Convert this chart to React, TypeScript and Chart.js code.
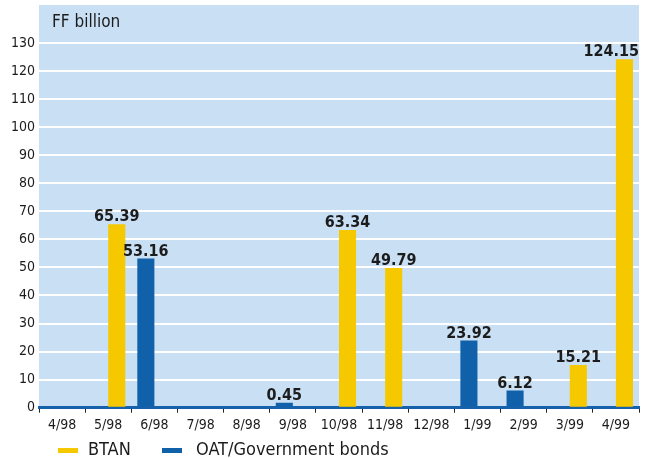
import React, { useEffect, useRef } from 'react';
import { Chart, registerables } from 'chart.js';

Chart.register(...registerables);

const categories = ['4/98', '5/98', '6/98', '7/98', '8/98', '9/98', '10/98', '11/98', '12/98', '1/99', '2/99', '3/99', '4/99'];
const btanValues: (number | null)[] = [null, 65.39, null, null, null, null, 63.34, 49.79, null, null, null, 15.21, 124.15];
const oatValues: (number | null)[] = [null, null, 53.16, null, null, 0.45, null, null, null, 23.92, 6.12, null, null];
const yTickValues = [0, 10, 20, 30, 40, 50, 60, 70, 80, 90, 100, 110, 120, 130];
const yMax = 143.5;
const unitLabel = 'FF billion';
const btanName = 'BTAN';
const oatName = 'OAT/Government bonds';

const FONT = "'Liberation Sans Narrow', 'Arial Narrow', 'DejaVu Sans Condensed', sans-serif";
const YELLOW = '#f6c800';
const BLUE = '#1061a9';
const PLOT_BG = '#c9dff4';
const TEXT = '#1c1c1c';

const plotPlugin = {
  id: 'plotDecor',
  beforeDraw(chart: any) {
    const { ctx, chartArea } = chart;
    ctx.save();
    ctx.fillStyle = PLOT_BG;
    ctx.fillRect(chartArea.left, chartArea.top, chartArea.right - chartArea.left, chartArea.bottom - chartArea.top);
    ctx.restore();
  },
  afterDraw(chart: any) {
    const { ctx, chartArea } = chart;
    ctx.save();
    ctx.fillStyle = TEXT;
    ctx.font = `17px ${FONT}`;
    ctx.textAlign = 'left';
    ctx.textBaseline = 'alphabetic';
    ctx.fillText(unitLabel, chartArea.left + 13, chartArea.top + 22);
    ctx.restore();
  },
  afterDatasetsDraw(chart: any) {
    const { ctx, chartArea } = chart;
    ctx.save();
    ctx.fillStyle = TEXT;
    ctx.font = `bold 16px ${FONT}`;
    ctx.textBaseline = 'alphabetic';
    ctx.textAlign = 'center';
    chart.data.datasets.forEach((ds: any, di: number) => {
      const meta = chart.getDatasetMeta(di);
      meta.data.forEach((el: any, i: number) => {
        const v = ds.data[i];
        if (v === null || v === undefined) return;
        const text = v.toFixed(2);
        const w = ctx.measureText(text).width;
        let x = el.x;
        if (x + w / 2 > chartArea.right) x = chartArea.right - w / 2;
        ctx.fillText(text, x, el.y - 3);
      });
    });
    ctx.restore();
  },
};

export default function App() {
  const canvasRef = useRef<HTMLCanvasElement | null>(null);

  useEffect(() => {
    document.body.style.margin = '0';
    const canvas = canvasRef.current;
    if (!canvas) return;
    const chart = new Chart(canvas, {
      type: 'bar',
      data: {
        labels: categories,
        datasets: [
          {
            label: oatName,
            data: oatValues,
            backgroundColor: BLUE,
            borderWidth: 0,
            categoryPercentage: 0.74,
            barPercentage: 1.0,
            minBarLength: 5,
          },
          {
            label: btanName,
            data: btanValues,
            backgroundColor: YELLOW,
            borderWidth: 0,
            categoryPercentage: 0.74,
            barPercentage: 1.0,
          },
        ],
      },
      options: {
        responsive: false,
        animation: false,
        layout: { padding: { top: 5, right: 14, left: 0, bottom: 0 } },
        plugins: {
          legend: { display: false },
          tooltip: { enabled: false },
        },
        scales: {
          x: {
            z: 1,
            grid: {
              display: true,
              drawOnChartArea: false,
              drawTicks: true,
              tickLength: 5,
              color: '#222',
              lineWidth: 1,
              offset: true,
            },
            border: { display: true, color: '#1561ac', width: 3 },
            ticks: {
              color: TEXT,
              font: { family: FONT, size: 14 },
              padding: 4,
              maxRotation: 0,
              autoSkip: false,
            },
            afterFit: (scale: any) => {
              scale.height = 50.3;
              scale.paddingLeft = 0;
              scale.paddingRight = 0;
            },
          },
          y: {
            min: 0,
            max: yMax,
            afterBuildTicks: (scale: any) => {
              scale.ticks = yTickValues.map((v) => ({ value: v }));
            },
            grid: {
              color: '#ffffff',
              lineWidth: 2,
              drawTicks: false,
            },
            border: { display: false },
            ticks: {
              color: TEXT,
              font: { family: FONT, size: 14 },
              padding: 4,
            },
            afterFit: (scale: any) => {
              scale.width = 39;
              scale.paddingTop = 0;
              scale.paddingBottom = 0;
            },
          },
        },
      },
      plugins: [plotPlugin],
    });
    return () => chart.destroy();
  }, []);

  const legendText: React.CSSProperties = {
    position: 'absolute',
    top: 438,
    height: 22,
    lineHeight: '22px',
    font: `18px ${FONT}`,
    color: TEXT,
    whiteSpace: 'nowrap',
  };
  const legendBox = (color: string, left: number): React.CSSProperties => ({
    position: 'absolute',
    left,
    top: 448,
    width: 20,
    height: 5,
    background: color,
  });

  return (
    <div style={{ position: 'relative', width: 653, height: 458 }}>
      <canvas ref={canvasRef} width={653} height={458} style={{ display: 'block' }} />
      <div style={legendBox(YELLOW, 58)} />
      <div style={{ ...legendText, left: 88 }}>{btanName}</div>
      <div style={legendBox(BLUE, 162)} />
      <div style={{ ...legendText, left: 196 }}>{oatName}</div>
    </div>
  );
}
